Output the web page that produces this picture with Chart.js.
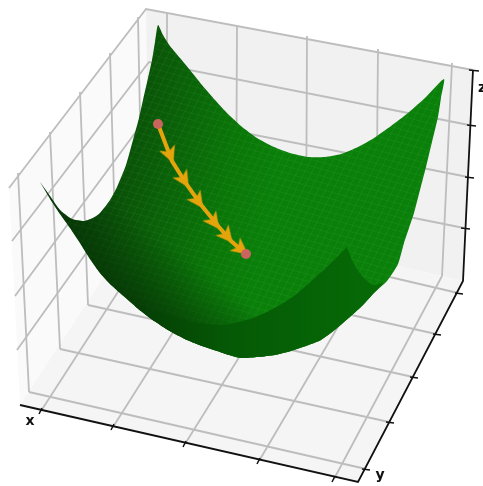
<!DOCTYPE html>
<html>
<head>
<meta charset="utf-8">
<style>
  html, body { margin: 0; background: #fff; }
  canvas { display: block; filter: blur(0.45px); }
</style>
<script src="https://cdn.jsdelivr.net/npm/chart.js@4"></script>
</head>
<body>
<canvas id="chart-area" width="483" height="486"></canvas>
<script>
"use strict";

const PANE_LEFT = [[9, 188], [146, 9], [149, 208], [20, 405]];
const PANE_BACK = [[146, 9], [473, 70], [463, 281], [149, 208]];
const PANE_FLOOR = [[20, 405], [149, 208], [463, 281], [358, 482]];

const WALL_VERTICALS = [
  [[18, 173], [29, 392]],
  [[50, 132], [60, 349]],
  [[80, 92], [88, 305]],
  [[110, 53], [116, 262]],
  [[138, 17], [142, 219]],
  [[167, 13], [167, 216]],
  [[237, 26], [236, 233]],
  [[307, 36], [306, 250]],
  [[378, 49], [376, 262]],
  [[452, 63], [442, 276]]
];

const WALL_HORIZONTALS = [
  [[9, 188], [146, 9], [473, 70]],
  [[12, 241], [149, 62], [469, 125]],
  [[15, 296], [149, 114], [468, 177]],
  [[17, 350], [149, 165], [464, 228]]
];

const FLOOR_LINES = [
  [[29, 392], [366, 469]],
  [[60, 349], [389, 422]],
  [[88, 305], [413, 377]],
  [[116, 262], [436, 334]],
  [[142, 219], [458, 293]],
  [[41, 411], [167, 216]],
  [[113, 427], [236, 233]],
  [[185, 444], [306, 250]],
  [[259, 461], [376, 262]],
  [[334, 479], [442, 276]]
];

const AXIS_LINES = [
  [[20, 405], [358, 482], [463, 281], [473, 70]]
];

const TICK_MARKS = [
  [[42, 408], [39, 414]], [[114, 424], [111, 430]], [[186, 441], [183, 447]],
  [[260, 458], [257, 464]], [[335, 476], [332, 482]],
  [[362, 469], [370, 470]], [[386, 422], [394, 423]], [[410, 377], [418, 378]],
  [[433, 334], [441, 335]], [[455, 293], [463, 294]],
  [[469, 70], [479, 71]], [[467, 125], [476, 126]],
  [[465, 177], [474, 178]], [[461, 228], [470, 229]]
];

const SURFACE_OUTLINE = [
  [40, 182], [50, 196], [60, 210], [72, 219], [84, 221], [93, 218], [100, 213], [110, 200],
  [117, 187], [126, 165], [133, 140], [139, 118], [143, 100], [148, 78], [152, 60], [155, 42], [158, 25],
  [163, 35], [170, 46], [180, 58], [190, 70], [202, 85], [215, 100], [228, 114], [241, 126],
  [257, 138], [274, 147], [290, 153], [308, 157], [325, 157], [341, 154], [358, 147], [374, 138],
  [391, 126], [408, 113], [426, 97], [444, 79],
  [441, 98], [438, 117], [432, 142], [426, 167], [420, 190], [414, 213], [409, 228], [404, 243],
  [398, 264], [387, 281], [374, 293], [363, 305],
  [351, 316], [336, 329], [321, 340], [306, 346], [291, 351], [275, 355], [258, 357], [241, 358], [229, 355], [217, 351],
  [202, 346], [187, 340], [168, 330], [150, 318], [135, 306], [120, 293], [109, 283], [100, 273], [90, 259], [80, 243],
  [70, 228], [60, 214], [52, 202], [46, 192]
];

const FRONT_BAND = [
  [347, 247], [352, 260], [357, 269], [363, 277], [373, 285], [383, 283], [374, 293], [363, 305],
  [351, 316], [336, 329], [321, 340], [306, 346], [291, 351], [275, 355], [258, 357], [241, 358], [229, 355], [217, 351],
  [202, 346], [187, 340], [168, 330], [150, 318], [135, 306], [156, 312], [180, 318], [197, 323], [223, 325], [239, 322], [253, 318], [267, 312], [280, 305],
  [294, 296], [307, 285], [317, 276], [327, 267], [337, 257]
];

const PATH_LINE = [[158, 124], [172, 161], [187, 185], [202, 206], [219, 227], [231, 241], [246, 254]];
const ARROW_HEADS = [[170, 155], [184, 180], [198, 201], [214, 222], [227, 236], [241, 249]];
const ARROW_ANGLES = [158, 148, 145, 143, 140, 128];
const PATH_ENDS = [[158, 124], [246, 254]];

const AXIS_LETTERS = ["x", "y", "z"];
const LETTER_SPOTS = [[30, 421], [380, 475], [482, 88]];

function toPoints(pairs) {
  return pairs.map(p => ({ x: p[0], y: p[1] }));
}

// NaN entries break the line between separate segments
function toSegments(lines) {
  const out = [];
  lines.forEach(line => {
    out.push(...toPoints(line));
    out.push({ x: NaN, y: NaN });
  });
  return out;
}

function polygon(pairs, color, tension) {
  return {
    data: toPoints(pairs),
    showLine: true,
    fill: "shape",
    backgroundColor: color,
    borderColor: "transparent",
    borderWidth: 0,
    pointRadius: 0,
    tension: tension || 0
  };
}

function segments(lines, color, width) {
  return {
    data: toSegments(lines),
    showLine: true,
    fill: false,
    spanGaps: false,
    borderColor: color,
    borderWidth: width,
    pointRadius: 0
  };
}

function makeArrowHead() {
  const c = document.createElement("canvas");
  c.width = 18;
  c.height = 18;
  const g = c.getContext("2d");
  g.fillStyle = "#e5a40c";
  g.beginPath();
  g.moveTo(9, 0);
  g.lineTo(17.5, 17);
  g.lineTo(9, 12.5);
  g.lineTo(0.5, 17);
  g.closePath();
  g.fill();
  return c;
}

function makeMesh() {
  const c = document.createElement("canvas");
  c.width = 10;
  c.height = 10;
  const g = c.getContext("2d");
  g.fillStyle = "rgba(130, 230, 130, 0.07)";
  g.fillRect(0, 0, 10, 1.4);
  g.fillRect(0, 0, 1.4, 10);
  const pattern = g.createPattern(c, "repeat");
  pattern.setTransform(new DOMMatrix([0.66, 0.18, 0.3, -0.6, 0, 0]));
  return pattern;
}

const ctx = document.getElementById("chart-area").getContext("2d");

const surfaceFill = ctx.createLinearGradient(60, 205, 265, 245);
surfaceFill.addColorStop(0, "#083a08");
surfaceFill.addColorStop(0.35, "#0a5808");
surfaceFill.addColorStop(0.75, "#0a7508");
surfaceFill.addColorStop(1, "#0a800a");

// darkens the surface towards its lower left edge
const edgeShade = ctx.createLinearGradient(110, 300, 160, 235);
edgeShade.addColorStop(0, "rgba(5, 48, 5, 0.85)");
edgeShade.addColorStop(1, "rgba(5, 48, 5, 0)");

const bandFill = ctx.createLinearGradient(135, 300, 380, 300);
bandFill.addColorStop(0, "#053c05");
bandFill.addColorStop(0.4, "#055a05");
bandFill.addColorStop(1, "#066a06");

const axisLetters = {
  id: "axisLetters",
  afterDatasetsDraw(chart) {
    const c = chart.ctx;
    c.save();
    c.font = "bold 14px 'DejaVu Sans'";
    c.fillStyle = "#111";
    c.textAlign = "center";
    c.textBaseline = "middle";
    AXIS_LETTERS.forEach((t, i) => {
      c.fillText(t,
        chart.scales.x.getPixelForValue(LETTER_SPOTS[i][0]),
        chart.scales.y.getPixelForValue(LETTER_SPOTS[i][1]));
    });
    c.restore();
  }
};

const layers = [
  polygon(PANE_LEFT, "#fafafa"),
  polygon(PANE_BACK, "#f1f1f2"),
  polygon(PANE_FLOOR, "#f5f5f6"),
  segments(WALL_VERTICALS, "#bdbdbd", 1.8),
  segments(WALL_HORIZONTALS, "#bdbdbd", 1.8),
  segments(FLOOR_LINES, "#bdbdbd", 1.8),
  segments(AXIS_LINES, "#111", 1.8),
  segments(TICK_MARKS, "#111", 1.5),
  polygon(SURFACE_OUTLINE, surfaceFill, 0.2),
  polygon(SURFACE_OUTLINE, makeMesh(), 0.2),
  polygon(SURFACE_OUTLINE, edgeShade, 0.2),
  polygon(FRONT_BAND, bandFill, 0.2),
  {
    data: toPoints(PATH_LINE),
    showLine: true,
    fill: false,
    borderColor: "#e5a40c",
    borderWidth: 4,
    pointRadius: 0
  },
  {
    data: toPoints(ARROW_HEADS),
    showLine: false,
    pointStyle: makeArrowHead(),
    pointRotation: ARROW_ANGLES,
    pointRadius: 9
  },
  {
    data: toPoints(PATH_ENDS),
    showLine: false,
    pointStyle: "circle",
    pointRadius: 5,
    pointBorderWidth: 0,
    pointBackgroundColor: "#c9645f"
  }
];

// later layers sit on top
layers.forEach((d, i) => { d.order = layers.length - i; });

window.surfaceChart = new Chart(ctx, {
  type: "scatter",
  data: { datasets: layers },
  plugins: [axisLetters],
  options: {
    responsive: false,
    animation: false,
    layout: { padding: 0, autoPadding: false },
    events: [],
    scales: {
      x: { type: "linear", min: 0, max: 483, display: false },
      y: { type: "linear", min: 0, max: 486, reverse: true, display: false }
    },
    plugins: {
      legend: { display: false },
      title: { display: false },
      tooltip: { enabled: false }
    }
  }
});
</script>
</body>
</html>
